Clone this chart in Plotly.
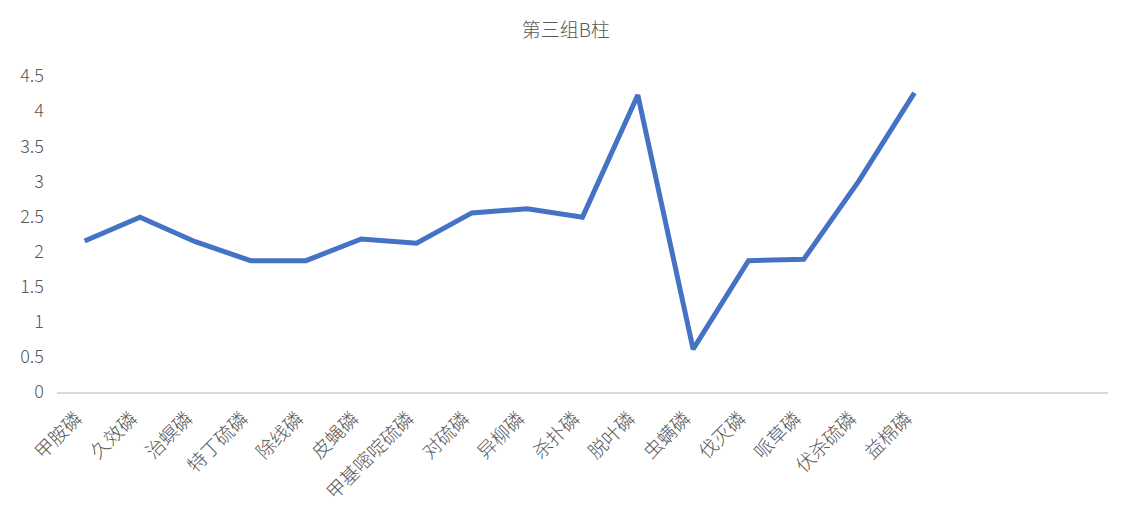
import plotly.graph_objects as go

categories = ["甲胺磷", "久效磷", "治螟磷", "特丁硫磷", "除线磷", "皮蝇磷", "甲基嘧啶硫磷", "对硫磷",
              "异柳磷", "杀扑磷", "脱叶磷", "虫螨磷", "伐灭磷", "哌草磷", "伏杀硫磷", "益棉磷"]
values = [2.15, 2.49, 2.14, 1.87, 1.87, 2.18, 2.12, 2.55, 2.61, 2.49, 4.23, 0.61, 1.87, 1.89, 3.01, 4.26]
y_ticks = [0, 0.5, 1, 1.5, 2, 2.5, 3, 3.5, 4, 4.5]
y_tick_text = ["0", "0.5", "1", "1.5", "2", "2.5", "3", "3.5", "4", "4.5"]

font_family = "Noto Sans CJK SC"
text_color = "#595959"

fig = go.Figure()
fig.add_trace(go.Scatter(
    x=categories, y=values, mode="lines",
    line=dict(color="#4472C4", width=5),
    showlegend=False,
))

fig.update_layout(
    width=1136, height=528,
    paper_bgcolor="white", plot_bgcolor="white",
    margin=dict(l=49, r=36, t=68, b=144),
    title=dict(text="第三组B柱", x=0.491, xanchor="center", y=0.958, yanchor="middle",
               font=dict(family=font_family, size=19, color=text_color, weight=300)),
    font=dict(family=font_family, color=text_color, weight=300),
)
fig.update_xaxes(
    type="category", range=[-0.5, 18.5],
    showgrid=False, showline=True, linecolor="#d9d9d9", linewidth=1.5,
    ticks="", tickangle=-45, ticklabelshift=-8, ticklabelstandoff=6,
    tickfont=dict(family=font_family, size=19, color=text_color, weight=300),
    zeroline=False,
)
fig.update_yaxes(
    range=[0, 4.5], tickvals=y_ticks, ticktext=y_tick_text,
    showgrid=False, zeroline=False, showline=False, ticks="",
    ticklabelstandoff=12,
    tickfont=dict(family=font_family, size=18, color=text_color, weight=300),
)

fig.write_html("out.html")
